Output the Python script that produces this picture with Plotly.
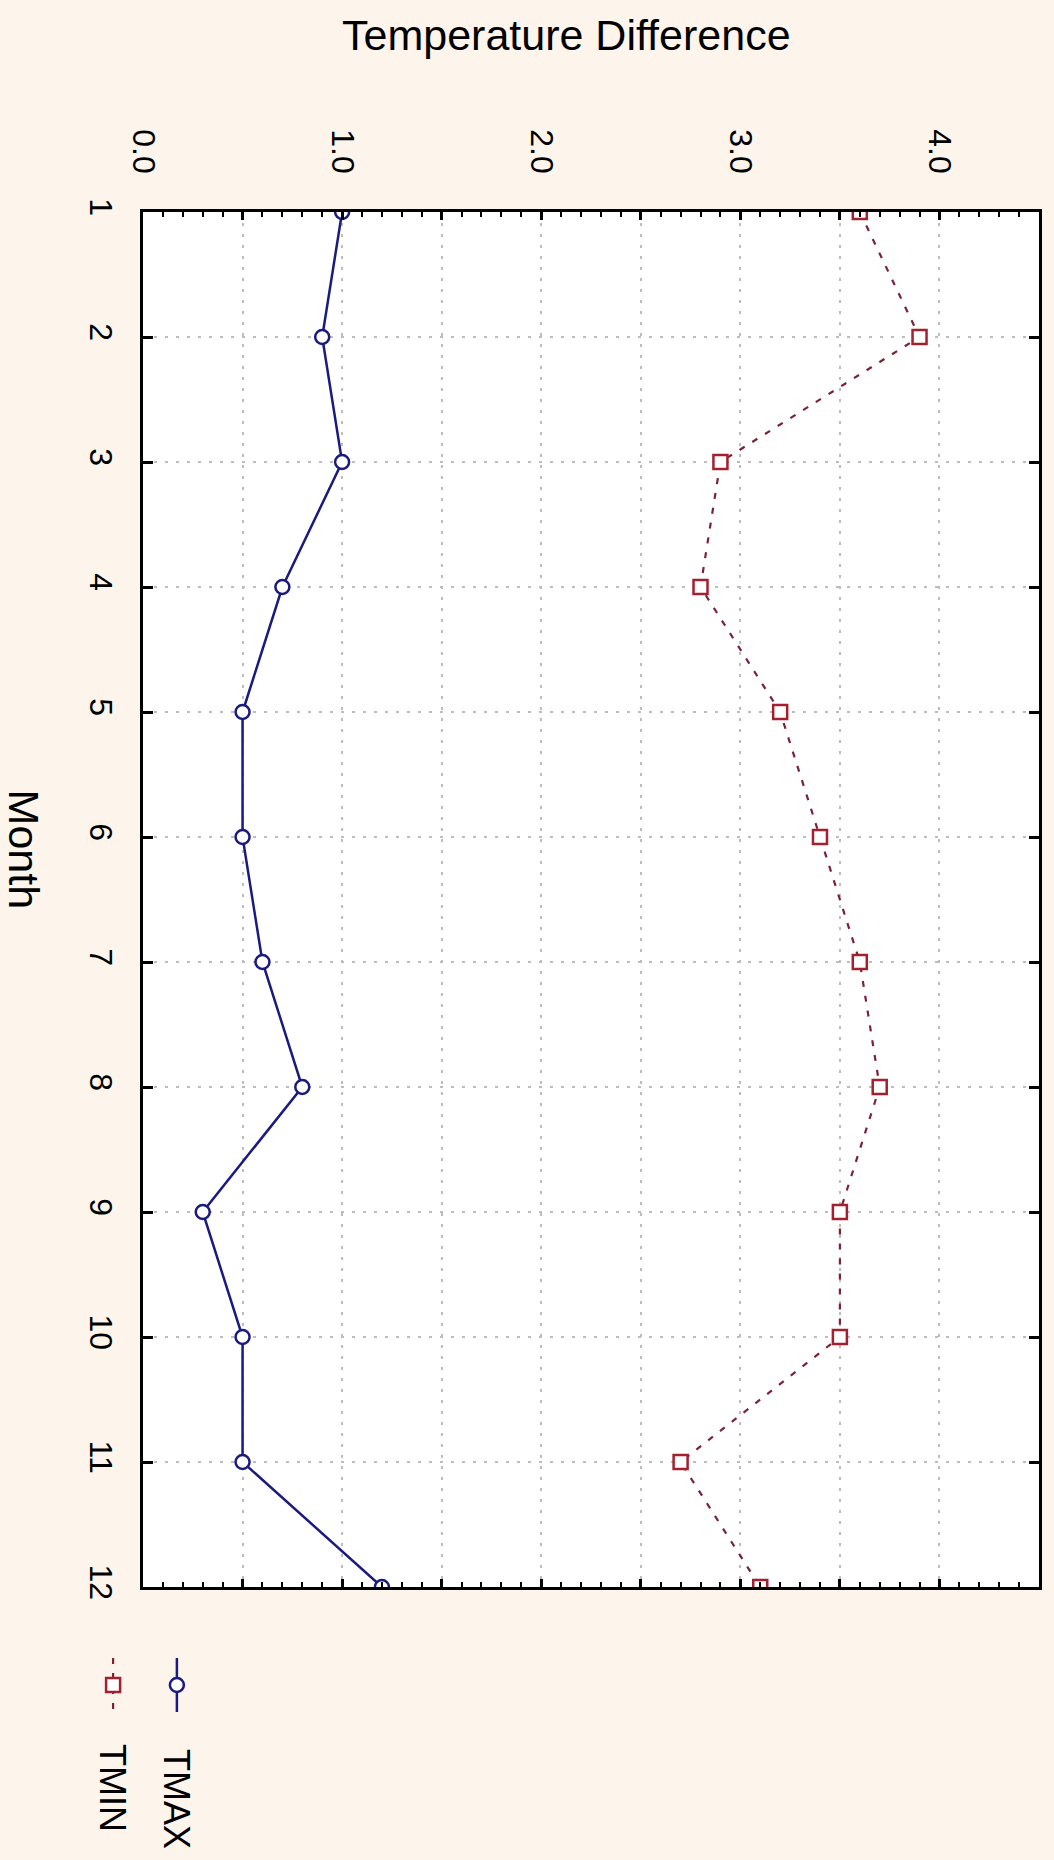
import plotly.graph_objects as go

# ---- data ----
months = [1, 2, 3, 4, 5, 6, 7, 8, 9, 10, 11, 12]
tmax = [1.0, 0.9, 1.0, 0.7, 0.5, 0.5, 0.6, 0.8, 0.3, 0.5, 0.5, 1.2]
tmin = [3.6, 3.9, 2.9, 2.8, 3.2, 3.4, 3.6, 3.7, 3.5, 3.5, 2.7, 3.1]
x_tickvals = [0, 0.5, 1.0, 1.5, 2.0, 2.5, 3.0, 3.5, 4.0, 4.5]
x_ticktext = ["0.0", "", "1.0", "", "2.0", "", "3.0", "", "4.0", ""]
month_ticktext = [str(m) for m in months]

# ---- styling ----
W, H = 1054, 1860
ML, MR, MT, MB = 143, 12, 212, 273
PW, PH = W - ML - MR, H - MT - MB
FONT = "Liberation Sans, Arial, sans-serif"
NAVY = "#1A1A80"
MAROON_LINE = "#7A2238"
RED_MARK = "#A3202E"
BG = "#FDF5EC"


def px2paper(px, py):
    return (px - ML) / PW, (H - MB - py) / PH


fig = go.Figure()
fig.add_trace(go.Scatter(
    x=tmax, y=months, mode="lines+markers", name="TMAX",
    line=dict(color=NAVY, width=2.5),
    marker=dict(symbol="circle", size=14, color="white",
                line=dict(color=NAVY, width=2.5)),
))
fig.add_trace(go.Scatter(
    x=tmin, y=months, mode="lines+markers", name="TMIN",
    line=dict(color=MAROON_LINE, width=2.2, dash="6px,9px"),
    marker=dict(symbol="square", size=14, color="white",
                line=dict(color=RED_MARK, width=2.5)),
))

axis_common = dict(
    showline=True, linecolor="black", linewidth=3, mirror="ticks",
    ticks="inside", tickcolor="black", tickwidth=2.5,
    showgrid=True, gridcolor="#BDBDBD", gridwidth=1.5, griddash="3px,8px",
    zeroline=False, tickangle=90,
    tickfont=dict(family=FONT, size=32, color="black"),
)

fig.update_xaxes(
    side="top", range=[0, 4.5], tickmode="array",
    tickvals=x_tickvals, ticktext=x_ticktext, ticklen=8,
    ticklabelstandoff=24,
    minor=dict(dtick=0.1, ticks="inside", ticklen=5, tickcolor="black",
               tickwidth=2, showgrid=False),
    **axis_common,
)
fig.update_yaxes(
    range=[12, 1], tickmode="array", tickvals=months,
    ticktext=month_ticktext, ticklen=10, ticklabelstandoff=12,
    **axis_common,
)

annotations = []
# titles
tx, ty = px2paper(568, 35)
annotations.append(dict(text="Temperature Difference", x=tx, y=ty, xref="paper", yref="paper",
                        showarrow=False, xanchor="center", yanchor="middle",
                        font=dict(family=FONT, size=43, color="black")))
mx, my = px2paper(24, 850)
annotations.append(dict(text="Month", x=mx, y=my, xref="paper", yref="paper",
                        showarrow=False, xanchor="center", yanchor="middle", textangle=90,
                        font=dict(family=FONT, size=43, color="black")))

# legend (rotated, drawn manually)
shapes = []
legend_items = [
    ("TMAX", 177, 1799, NAVY, NAVY, "circle", "solid"),
    ("TMIN", 113, 1788, MAROON_LINE, RED_MARK, "rect", "dash"),
]
for name, lx, ly, lcol, mcol, sym, dash in legend_items:
    ax, ay = px2paper(lx, ly)
    annotations.append(dict(text=name, x=ax, y=ay, xref="paper", yref="paper",
                            showarrow=False, xanchor="center", yanchor="middle", textangle=90,
                            font=dict(family=FONT, size=36, color="black")))
    x0, y0 = px2paper(lx, 1658)
    x1, y1 = px2paper(lx, 1712)
    shapes.append(dict(type="line", xref="paper", yref="paper", x0=x0, x1=x1, y0=y0, y1=y1,
                       line=dict(color=lcol, width=2.5 if dash == "solid" else 2.2,
                                 dash="solid" if dash == "solid" else "6px,9px")))
    cx, cy = px2paper(lx, 1685)
    shapes.append(dict(type=sym, xref="paper", yref="paper", xsizemode="pixel", ysizemode="pixel",
                       xanchor=cx, yanchor=cy, x0=-7, x1=7, y0=-7, y1=7,
                       fillcolor="white", line=dict(color=mcol, width=2.5)))

fig.update_layout(
    width=W, height=H,
    margin=dict(l=ML, r=MR, t=MT, b=MB, pad=0),
    paper_bgcolor=BG, plot_bgcolor="white",
    showlegend=False, hovermode=False,
    annotations=annotations, shapes=shapes,
    font=dict(family=FONT, color="black"),
)

fig.write_html("out.html", config={"displayModeBar": False})
